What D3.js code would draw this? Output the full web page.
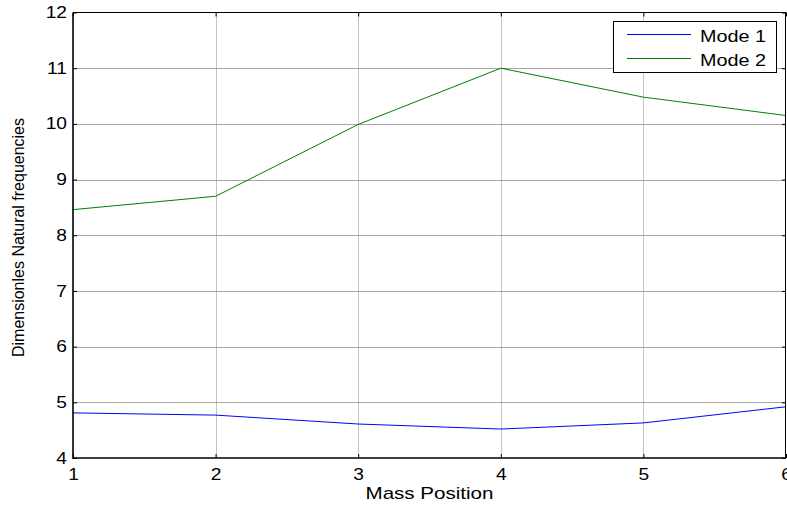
<!DOCTYPE html>
<html><head><meta charset="utf-8">
<script src="https://cdn.jsdelivr.net/npm/d3@7"></script>
<style>body{margin:0;background:#fff}svg{display:block}text{font-family:Arial,"Liberation Sans",sans-serif;fill:#000}</style>
</head><body>
<svg id="c" width="787" height="505"></svg>
<script>
const positions = [1, 2, 3, 4, 5, 6];
const mode1 = [4.81, 4.77, 4.61, 4.52, 4.63, 4.92];
const mode2 = [8.46, 8.70, 9.99, 11.00, 10.48, 10.15];
const seriesNames = ["Mode 1", "Mode 2"];
const seriesColors = ["#0000ff", "#008000"];
const xTicks = [1, 2, 3, 4, 5, 6];
const yTicks = [4, 5, 6, 7, 8, 9, 10, 11, 12];
const xLabel = "Mass Position";
const yLabel = "Dimensionles Natural frequencies";

const svg = d3.select("#c");
const L = 73, R = 786, T = 12.5, B = 458;
const x = d3.scaleLinear().domain([1, 6]).range([L, R]);
const y = d3.scaleLinear().domain([4, 12]).range([B, T]);

// grid
const g = svg.append("g");
g.selectAll("line.h").data(yTicks.slice(1, -1)).join("line")
  .attr("x1", L).attr("x2", R).attr("y1", d => Math.round(y(d)) + 0.5).attr("y2", d => Math.round(y(d)) + 0.5)
  .attr("stroke", "#a6a6a6").attr("stroke-width", 1);
g.selectAll("line.v").data(xTicks.slice(1, -1)).join("line")
  .attr("y1", T).attr("y2", B).attr("x1", d => Math.round(x(d)) + 0.5).attr("x2", d => Math.round(x(d)) + 0.5)
  .attr("stroke", "#888").attr("stroke-width", 1).attr("stroke-dasharray", "1,1");

// series
const line = d3.line().x((d, i) => x(positions[i])).y(d => y(d));
[mode1, mode2].forEach((s, k) => {
  svg.append("path").attr("d", line(s)).attr("fill", "none")
    .attr("stroke", seriesColors[k]).attr("stroke-width", 1);
});

// axes (inward ticks)
const fmt = d3.format("d");
const ax = (gen, tr) => svg.append("g").attr("transform", tr).call(gen);
const xb = ax(d3.axisBottom(x).tickValues(xTicks).tickSizeInner(-4).tickSizeOuter(0).tickPadding(11).tickFormat(fmt), `translate(0,${B})`);
const yl = ax(d3.axisLeft(y).tickValues(yTicks).tickSizeInner(-4).tickSizeOuter(0).tickPadding(7).tickFormat(fmt), `translate(${L},0)`);
const xt = ax(d3.axisTop(x).tickValues(xTicks).tickSizeInner(-4).tickSizeOuter(0).tickFormat(""), `translate(0,${T})`);
const yr = ax(d3.axisRight(y).tickValues(yTicks).tickSizeInner(-4).tickSizeOuter(0).tickFormat(""), `translate(${R},0)`);
[xb, yl, xt, yr].forEach(a => { a.select(".domain").remove(); a.selectAll(".tick line").attr("stroke", "#000"); });
xb.selectAll("text").attr("font-size", 16).attr("font-family", "Arial,'Liberation Sans',sans-serif").attr("fill", "#000")
  .attr("transform", "scale(1.2,1)");
yl.selectAll("text").attr("font-size", 16).attr("font-family", "Arial,'Liberation Sans',sans-serif").attr("fill", "#000")
  .attr("transform", "scale(1.2,1)").attr("x", -6 / 1.2);

// box
svg.append("line").attr("x1", L).attr("x2", R).attr("y1", T).attr("y2", T).attr("stroke", "#000");
svg.append("line").attr("x1", R - 0.5).attr("x2", R - 0.5).attr("y1", T).attr("y2", B).attr("stroke", "#000");
svg.append("line").attr("x1", L).attr("x2", L).attr("y1", T).attr("y2", B + 1).attr("stroke", "#000").attr("stroke-width", 1.6);
svg.append("line").attr("x1", L).attr("x2", R).attr("y1", B).attr("y2", B).attr("stroke", "#000").attr("stroke-width", 1.6);

// labels
svg.append("text").attr("x", (L + R) / 2).attr("y", 499).attr("text-anchor", "middle")
  .attr("font-size", 17).attr("textLength", 128).attr("lengthAdjust", "spacingAndGlyphs").text(xLabel);
svg.append("text").attr("transform", "translate(24,237.5) rotate(-90)").attr("text-anchor", "middle")
  .attr("font-size", 16).attr("textLength", 239).attr("lengthAdjust", "spacingAndGlyphs").text(yLabel);

// legend
const lg = svg.append("g");
lg.append("rect").attr("x", 613.5).attr("y", 21.5).attr("width", 163).attr("height", 51)
  .attr("fill", "#fff").attr("stroke", "#000").attr("stroke-width", 1);
const ly = [34.5, 58.5];
seriesNames.forEach((n, k) => {
  lg.append("line").attr("x1", 627).attr("x2", 691).attr("y1", ly[k]).attr("y2", ly[k])
    .attr("stroke", seriesColors[k]).attr("stroke-width", 1);
  lg.append("text").attr("x", 700).attr("y", ly[k] + 7).attr("font-size", 16)
    .attr("textLength", 66).attr("lengthAdjust", "spacingAndGlyphs").text(n);
});
</script>
</body></html>
